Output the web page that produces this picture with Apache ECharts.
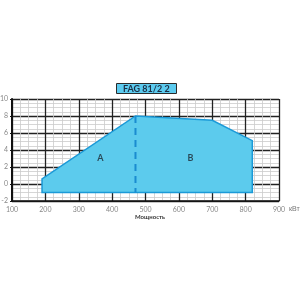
<!DOCTYPE html>
<html><head><meta charset="utf-8">
<script src="https://cdn.jsdelivr.net/npm/echarts@6/dist/echarts.min.js"></script>
<style>html,body{margin:0;padding:0;background:#fff}#c{width:300px;height:300px}</style>
</head><body><div id="c"></div>
<script>
const boundaryX = [190, 190, 470, 700, 820, 820];
const boundaryY = [-1, 0.6, 8, 7.5, 5.1, -1];
const dividerX = [470, 470];
const dividerY = [8, -1];
const zoneNames = ['A', 'B'];
const zoneX = [365, 635];
const zoneY = [3.1, 3.1];
const xTicks = [100, 200, 300, 400, 500, 600, 700, 800, 900];
const yTicks = [-2, 0, 2, 4, 6, 8, 10];
const titleText = 'FAG 81/2 2';
const xUnit = 'кВт';
const xTitle = 'Мощность';

const chart = echarts.init(document.getElementById('c'), null, {renderer: 'canvas'});
const polyData = boundaryX.map((x, i) => [x, boundaryY[i]]);
chart.setOption({
  animation: false,
  title: {
    text: titleText, left: 116, top: 83,
    padding: [1, 7, 0, 7],
    backgroundColor: '#5ccbef', borderColor: '#2a2a2a', borderWidth: 1,
    textStyle: {fontSize: 9, fontWeight: 'bold', color: '#1c2f45', fontFamily: 'Lato', lineHeight: 10}
  },
  grid: {left: 12, right: 21, top: 99, bottom: 99, containLabel: false, outerBoundsMode: 'none'},
  xAxis: {
    type: 'value', min: xTicks[0], max: xTicks[xTicks.length - 1], interval: 100,
    name: xUnit, nameLocation: 'end', nameGap: 4,
    nameTextStyle: {fontSize: 7, color: '#777', verticalAlign: 'top', padding: [5, 0, 0, 0]},
    axisLine: {show: true, onZero: false, lineStyle: {color: '#111', width: 1.5}},
    axisTick: {show: false},
    axisLabel: {fontSize: 7, color: '#888', margin: 5, fontFamily: 'Lato'},
    splitLine: {show: true, lineStyle: {color: '#222', width: 1.3}},
    minorTick: {show: false, splitNumber: 4},
    minorSplitLine: {show: true, lineStyle: {color: '#cccccc', width: 0.8}}
  },
  yAxis: {
    type: 'value', min: yTicks[0], max: yTicks[yTicks.length - 1], interval: 2,
    axisLine: {show: true, onZero: false, lineStyle: {color: '#111', width: 2}},
    axisTick: {show: true, length: 2, inside: false, lineStyle: {color: '#111'}},
    axisLabel: {fontSize: 7, color: '#888', margin: 4, fontFamily: 'Lato'},
    splitLine: {show: true, lineStyle: {color: '#222', width: 1.3}},
    minorTick: {show: false, splitNumber: 4},
    minorSplitLine: {show: true, lineStyle: {color: '#cccccc', width: 0.8}}
  },
  graphic: [{
    type: 'text', left: 'center', top: 214,
    style: {text: xTitle, fontSize: 6, fontWeight: 'bold', fill: '#333', fontFamily: 'Lato'},
    x: -6
  }],
  series: [{
    type: 'custom',
    data: [0],
    renderItem: function (params, api) {
      const pts = polyData.map(p => api.coord(p));
      return {
        type: 'polygon',
        shape: {points: pts},
        style: {fill: '#5ccbed', stroke: '#1b9ad8', lineWidth: 1.5}
      };
    },
    z: 3
  }, {
    type: 'line',
    data: dividerX.map((x, i) => [x, dividerY[i]]),
    symbol: 'none',
    lineStyle: {color: '#1a8cd0', width: 2, type: [7, 5]},
    z: 4
  }, {
    type: 'scatter',
    data: zoneNames.map((n, i) => ({value: [zoneX[i], zoneY[i]], name: n})),
    symbolSize: 0,
    label: {show: true, position: 'inside', formatter: p => p.name, fontSize: 9, fontWeight: 'bold', color: '#1b2530', fontFamily: 'Lato'},
    z: 5
  }]
});
</script></body></html>
